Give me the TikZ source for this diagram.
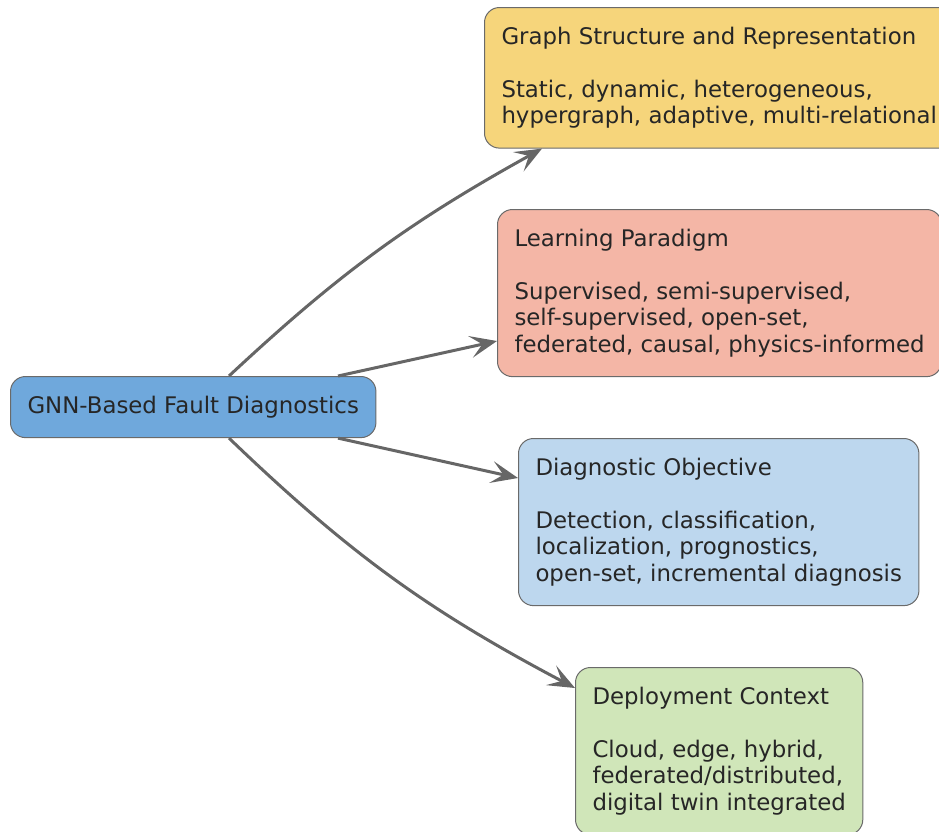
\documentclass[tikz,border=0pt]{standalone}
\usepackage{fontspec}
\setmainfont{DejaVu Sans}
\usepackage{tikz}
\usetikzlibrary{positioning, arrows.meta}

\definecolor{coreblue}{HTML}{6FA8DC}
\definecolor{graphyellow}{HTML}{F6D57B}
\definecolor{learnsalmon}{HTML}{F4B6A6}
\definecolor{goalblue}{HTML}{BDD7EE}
\definecolor{deploygreen}{HTML}{D0E6B9}
\definecolor{edgegray}{HTML}{6A6A6A}
\definecolor{arrowgray}{HTML}{666666}
\definecolor{textgray}{HTML}{262626}

\begin{document}
\begin{tikzpicture}[x=1pt, y=-1pt,
    box/.style={draw=edgegray, line width=1pt, rounded corners=15pt,
        align=left, anchor=north west, inner xsep=17pt, inner ysep=19.5pt,
        text=textgray, font=\fontsize{22.85}{26.5}\selectfont},
    link/.style={draw=arrowgray, line width=3pt,
        -{Stealth[length=27pt, width=22pt, inset=12pt]}}]

    % Frame
    \useasboundingbox (0,0) rectangle (939,831);

    % Centre node
    \node[box, fill=coreblue] (core) at (10,376) {GNN-Based Fault Diagnostics};

    % Branches
    \node[box, fill=graphyellow] (graph) at (484,7)
        {Graph Structure and Representation\\[26.5pt]
         Static, dynamic, heterogeneous,\\
         hypergraph, adaptive, multi-relational};
    \node[box, fill=learnsalmon] (learn) at (497,209)
        {Learning Paradigm\\[26.5pt]
         Supervised, semi-supervised,\\
         self-supervised, open-set,\\
         federated, causal, physics-informed};
    \node[box, fill=goalblue] (goal) at (518,438)
        {Diagnostic Objective\\[26.5pt]
         Detection, classification,\\
         localization, prognostics,\\
         open-set, incremental diagnosis};
    \node[box, fill=deploygreen] (deploy) at (575,667)
        {Deployment Context\\[26.5pt]
         Cloud, edge, hybrid,\\
         federated/distributed,\\
         digital twin integrated};

    % Arrows
    \draw[link] ([xshift=219pt]core.north west) to[bend left=7] ([xshift=58pt]graph.south west);
    \draw[link] ([xshift=328pt]core.north west) -- ([yshift=-132pt]learn.north west);
    \draw[link] ([xshift=328pt]core.south west) -- ([yshift=-40pt]goal.north west);
    \draw[link] ([xshift=219pt]core.south west) to[bend right=8] ([yshift=-21pt]deploy.north west);

\end{tikzpicture}
\end{document}
